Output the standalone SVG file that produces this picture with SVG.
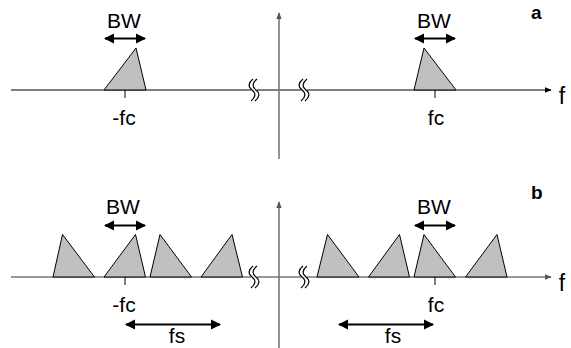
<svg xmlns="http://www.w3.org/2000/svg" width="571" height="348" viewBox="0 0 571 348">
<style>
text{font-family:"Liberation Sans",Arial,sans-serif;fill:#000}
.lbl{font-size:21px;text-anchor:middle}
.ax{font-size:23px;text-anchor:middle}
.panel{font-size:19px;font-weight:bold}
.tri{fill:#c0c0c0;stroke:#000;stroke-width:1}
.dim{stroke:#000;stroke-width:2.2;fill:none;marker-start:url(#ah);marker-end:url(#ah)}
.brk{fill:none;stroke:#000;stroke-width:1.2}
.tick{stroke:#000;stroke-width:1}
</style>
<defs>
<marker id="ah" viewBox="0 0 10 10" refX="9" refY="5" markerWidth="4.6" markerHeight="4.6" orient="auto-start-reverse" markerUnits="strokeWidth">
<path d="M0,0 L10,5 L0,10 z" fill="#000"/>
</marker>
<marker id="axk" viewBox="0 0 10 10" refX="9" refY="5" markerWidth="7" markerHeight="7" orient="auto" markerUnits="userSpaceOnUse">
<path d="M0,1 L10,5 L0,9 z" fill="#000"/>
</marker>
<marker id="axg" viewBox="0 0 10 10" refX="9" refY="5" markerWidth="7" markerHeight="7" orient="auto" markerUnits="userSpaceOnUse">
<path d="M0,1 L10,5 L0,9 z" fill="#555"/>
</marker>
<g id="brkmark">
<rect x="-3" y="-3" width="6" height="6" fill="#fff"/>
<path class="brk" d="M-1,-11 C-6,-7 -6,-3 -2,0 C2,3 2,7 -3,11"/>
<path class="brk" d="M3,-11 C-2,-7 -2,-3 2,0 C6,3 6,7 1,11"/>
</g>
</defs>

<g id="axes">
<line x1="11" y1="90" x2="551" y2="90" stroke="#000" stroke-width="1.2" marker-end="url(#axk)"/>
<line x1="279" y1="159" x2="279" y2="13" stroke="#777" stroke-width="1.6" marker-end="url(#axg)"/>
<line x1="11" y1="277" x2="551" y2="277" stroke="#777" stroke-width="1.6" marker-end="url(#axg)"/>
<line x1="279" y1="348" x2="279" y2="202" stroke="#777" stroke-width="1.6" marker-end="url(#axg)"/>
</g>

<g id="breaks">
<use href="#brkmark" x="254" y="90"/>
<use href="#brkmark" x="304" y="90"/>
<use href="#brkmark" x="254" y="277"/>
<use href="#brkmark" x="304" y="277"/>
</g>

<g id="panel-a">
<polygon class="tri" points="104,90 136,48 146,90"/>
<polygon class="tri" points="414,90 424,48 456,90"/>
<line class="tick" x1="125" y1="90" x2="125" y2="98"/>
<line class="tick" x1="435" y1="90" x2="435" y2="98"/>
<line class="dim" x1="105" y1="38.5" x2="145" y2="38.5"/>
<line class="dim" x1="415" y1="38.5" x2="455" y2="38.5"/>
<text class="lbl" x="124" y="28">BW</text>
<text class="lbl" x="434" y="28">BW</text>
<text class="lbl" x="124" y="125">-fc</text>
<text class="lbl" x="436" y="125">fc</text>
<text class="panel" x="531" y="19">a</text>
<text class="ax" x="562" y="104">f</text>
</g>

<g id="panel-b">
<polygon class="tri" points="53,277 62.5,234.5 94.5,277"/>
<polygon class="tri" points="104,277 135.5,234.5 145.5,277"/>
<polygon class="tri" points="150,277 160,234.5 191.5,277"/>
<polygon class="tri" points="201,277 232,234.5 242.5,277"/>
<polygon class="tri" points="317,277 327.5,234.5 359,277"/>
<polygon class="tri" points="368.5,277 399.5,234.5 409.5,277"/>
<polygon class="tri" points="414,277 424,234.5 455.5,277"/>
<polygon class="tri" points="465.5,277 497,234.5 507,277"/>
<line class="tick" x1="125" y1="277" x2="125" y2="285"/>
<line class="tick" x1="435" y1="277" x2="435" y2="285"/>
<line class="dim" x1="105" y1="225.5" x2="145" y2="225.5"/>
<line class="dim" x1="415" y1="225.5" x2="455" y2="225.5"/>
<line class="dim" x1="126" y1="324.5" x2="220" y2="324.5"/>
<line class="dim" x1="339" y1="324.5" x2="433" y2="324.5"/>
<text class="lbl" x="123" y="214">BW</text>
<text class="lbl" x="434" y="214">BW</text>
<text class="lbl" x="124" y="312">-fc</text>
<text class="lbl" x="436" y="312">fc</text>
<text class="lbl" x="177" y="343">fs</text>
<text class="lbl" x="393" y="343">fs</text>
<text class="panel" x="531" y="199">b</text>
<text class="ax" x="562" y="291">f</text>
</g>
</svg>
